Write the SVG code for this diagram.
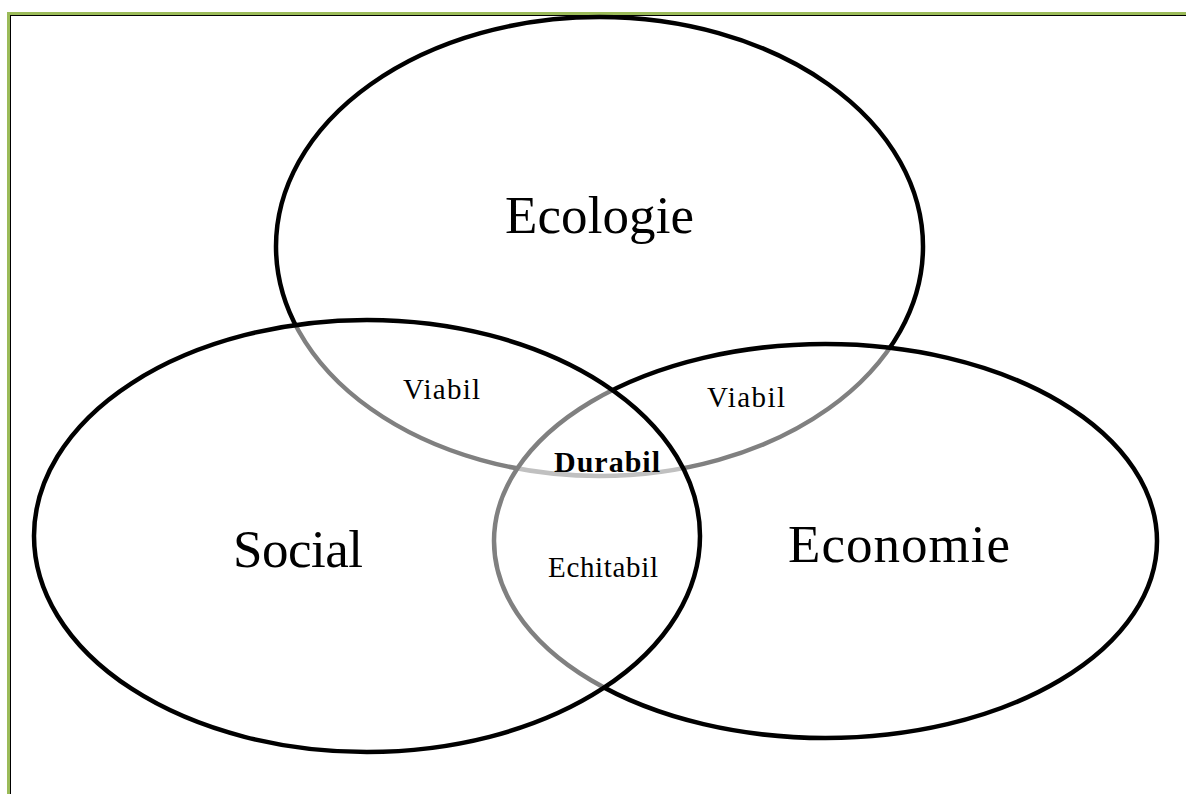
<svg xmlns="http://www.w3.org/2000/svg" width="1186" height="794" viewBox="0 0 1186 794">
<style>
.ring{stroke:#000;stroke-width:4.5}
.big{font-family:"Liberation Serif","Times New Roman",serif;font-size:53px;fill:#000}
.small{font-family:"Liberation Serif","Times New Roman",serif;font-size:29px;fill:#000}
.bold{font-family:"Liberation Serif","Times New Roman",serif;font-size:30px;font-weight:bold;fill:#000}
</style>
<rect x="0" y="0" width="1186" height="794" fill="#fff"/>
<g id="frame">
<rect x="8.5" y="13.5" width="1200" height="800" fill="none" stroke="#9BBB59" stroke-width="3"/>
<rect x="10.5" y="15.5" width="1200" height="800" fill="none" stroke="#000" stroke-width="1"/>
</g>
<g id="ecologie">
<ellipse class="ring" cx="599.5" cy="246.5" rx="323.5" ry="229.5" fill="#fff"/>
</g>
<g id="economie">
<ellipse class="ring" cx="825.5" cy="541" rx="331.5" ry="197" fill="#fff" fill-opacity="0.5"/>
</g>
<g id="social">
<ellipse class="ring" cx="367" cy="536" rx="333" ry="216" fill="#fff" fill-opacity="0.5"/>
</g>
<g id="labels">
<text class="big" x="505" y="233" textLength="189">Ecologie</text>
<text class="big" x="233" y="567" textLength="130">Social</text>
<text class="big" x="788" y="562" textLength="222">Economie</text>
<text class="small" x="403" y="399" textLength="77">Viabil</text>
<text class="small" x="707" y="407" textLength="78">Viabil</text>
<text class="small" x="548" y="577" textLength="110">Echitabil</text>
<text class="bold" x="554" y="472" textLength="106">Durabil</text>
</g>
</svg>
